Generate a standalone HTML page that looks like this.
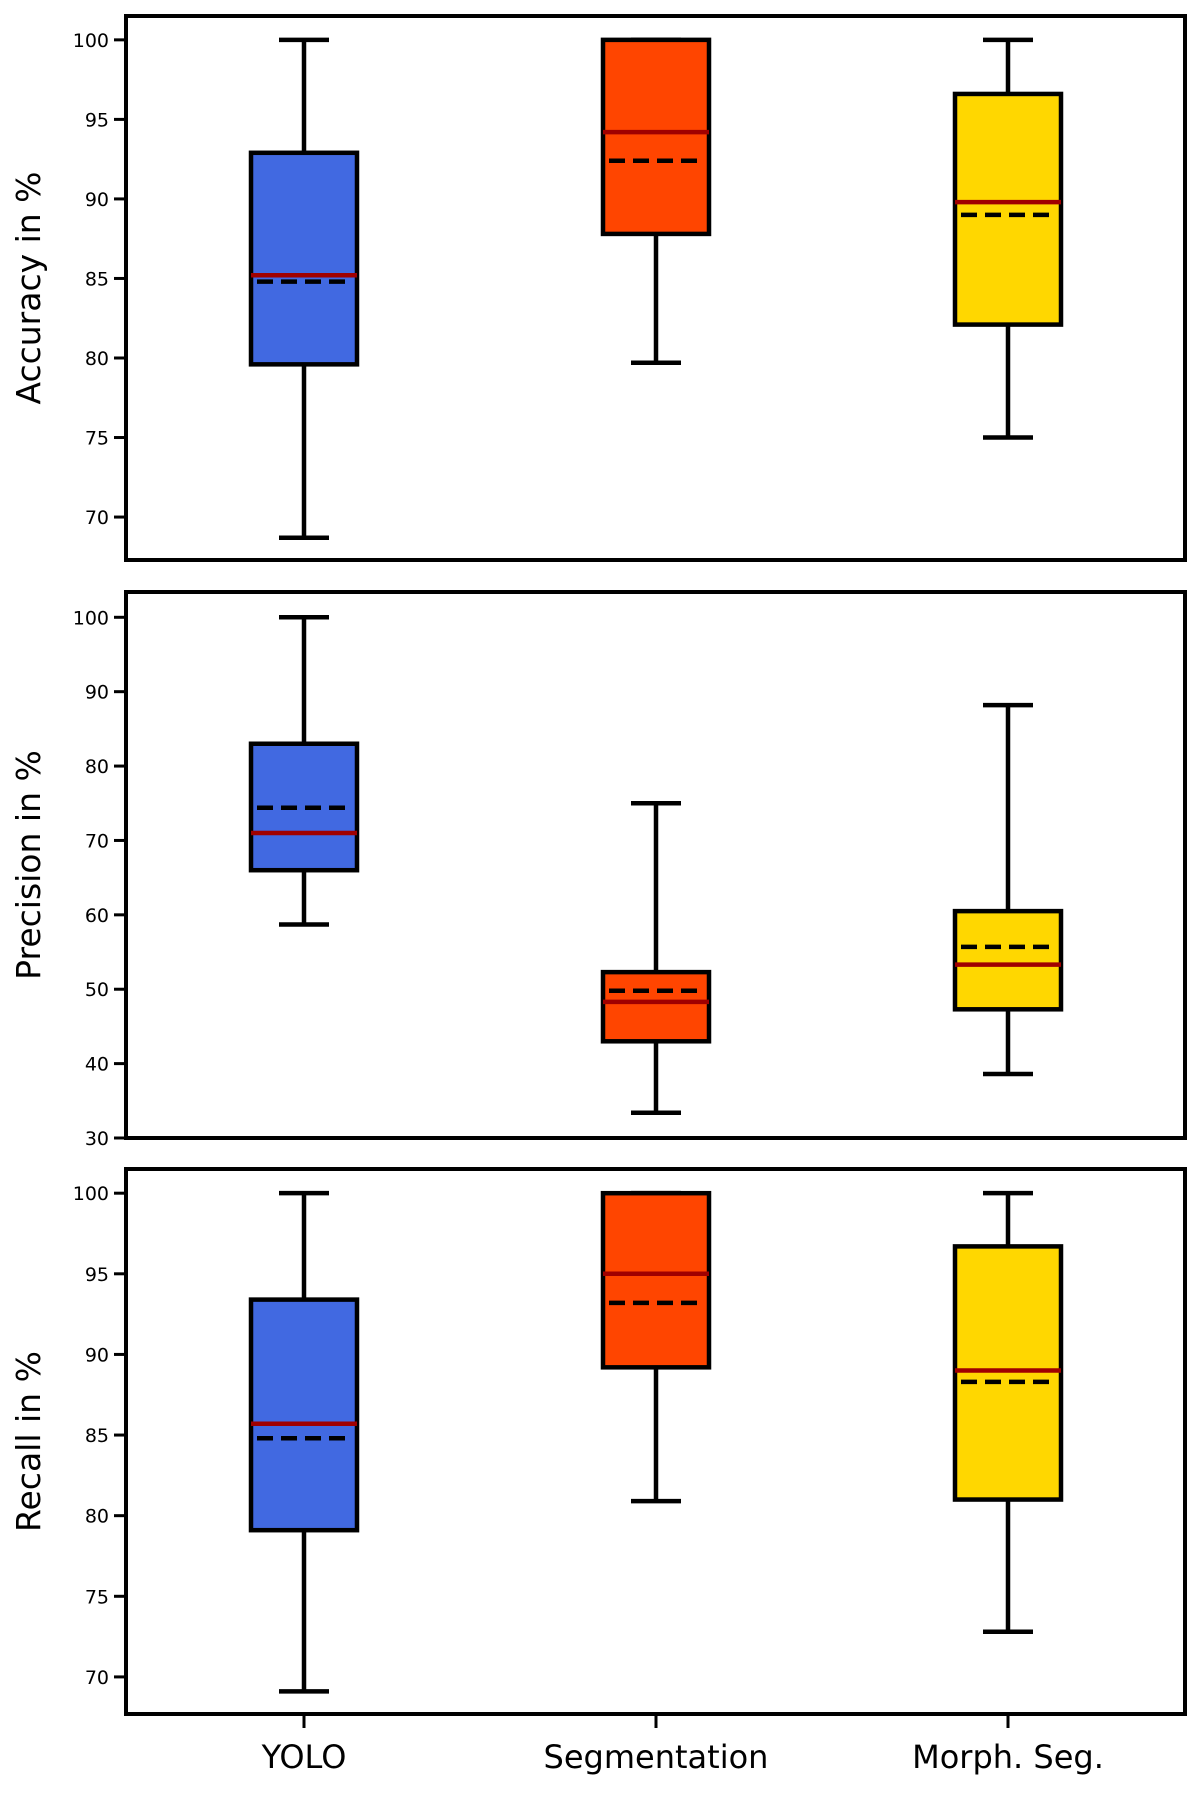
<!DOCTYPE html>
<html><head><meta charset="utf-8"><style>
body{margin:0;background:#fff}
svg{display:block;font-family:"DejaVu Sans","Liberation Sans",sans-serif}
</style></head><body>
<svg id="chart" width="1200" height="1795" viewBox="0 0 1200 1795"></svg>
<script>
const categories=["YOLO","Segmentation","Morph. Seg."];
const colors=["#4169E1","#FF4500","#FFD700"];
const panelTitles=["Accuracy in %","Precision in %","Recall in %"];
// [whiskerLow, q1, q3, whiskerHigh, median, mean]
const accuracyStats=[[68.7,79.6,92.9,100,85.2,84.8],[79.7,87.8,100,100,94.2,92.4],[75,82.1,96.6,100,89.8,89.0]];
const precisionStats=[[58.7,66,83,100,71,74.4],[33.4,43,52.3,75,48.3,49.8],[38.6,47.3,60.5,88.2,53.3,55.7]];
const recallStats=[[69.1,79.1,93.4,100,85.7,84.8],[80.9,89.2,100,100,95,93.2],[72.8,81,96.7,100,89,88.3]];
const accuracyTicks=[70,75,80,85,90,95,100];
const precisionTicks=[30,40,50,60,70,80,90,100];
const recallTicks=[70,75,80,85,90,95,100];

const NS="http://www.w3.org/2000/svg";
const svg=document.getElementById('chart');
function mk(tag,attrs,parent){const e=document.createElementNS(NS,tag);for(const k in attrs)e.setAttribute(k,attrs[k]);(parent||svg).appendChild(e);return e;}
const L=126,R=1185;
const xc=[304,656,1008];
const panels=[
 {top:16,bot:560,ymin:67.3,ymax:101.5,stats:accuracyStats,ticks:accuracyTicks,name:'accuracy'},
 {top:592,bot:1138,ymin:30,ymax:103.4,stats:precisionStats,ticks:precisionTicks,name:'precision'},
 {top:1169,bot:1714,ymin:67.7,ymax:101.5,stats:recallStats,ticks:recallTicks,name:'recall'}
];
panels.forEach((p,pi)=>{
 const g=mk('g',{});
 
 
 const y=v=>p.bot-(v-p.ymin)/(p.ymax-p.ymin)*(p.bot-p.top);
 p.stats.forEach((s,i)=>{
  const bg=mk('g',{},g);
  
  
  const c=xc[i],hw=53,cw=25,sw=4.5;
  mk('line',{x1:c,x2:c,y1:y(s[0]),y2:y(s[1]),stroke:'#000','stroke-width':sw},bg);
  mk('line',{x1:c,x2:c,y1:y(s[2]),y2:y(s[3]),stroke:'#000','stroke-width':sw},bg);
  mk('line',{x1:c-cw,x2:c+cw,y1:y(s[0]),y2:y(s[0]),stroke:'#000','stroke-width':sw},bg);
  mk('line',{x1:c-cw,x2:c+cw,y1:y(s[3]),y2:y(s[3]),stroke:'#000','stroke-width':sw},bg);
  mk('rect',{x:c-hw,y:y(s[2]),width:2*hw,height:y(s[1])-y(s[2]),fill:colors[i],stroke:'#000','stroke-width':sw},bg);
  mk('line',{x1:c-hw,x2:c+hw,y1:y(s[4]),y2:y(s[4]),stroke:'#a00000','stroke-width':sw},bg);
  mk('line',{x1:c-hw+6,x2:c+hw-4,y1:y(s[5]),y2:y(s[5]),stroke:'#000','stroke-width':sw,'stroke-dasharray':'16,8'},bg);
 });
 p.ticks.forEach(t=>{
  mk('line',{x1:L-12,x2:L,y1:y(t),y2:y(t),stroke:'#000','stroke-width':3},g);
  const tx=mk('text',{x:L-17,y:y(t)+7,'text-anchor':'end','font-size':19,fill:'#000'},g);
  tx.textContent=t;
  
  
 });
 const fr=mk('rect',{x:L,y:p.top,width:R-L,height:p.bot-p.top,fill:'none',stroke:'#000','stroke-width':4},g);
 
 
 const cy=(p.top+p.bot)/2;
 const tt=mk('text',{x:0,y:0,transform:`translate(40,${cy}) rotate(-90)`,'text-anchor':'middle','font-size':33,fill:'#000'},g);
 tt.textContent=panelTitles[pi];
 
 
 if(pi===2){
  categories.forEach((c,i)=>{
   mk('line',{x1:xc[i],x2:xc[i],y1:p.bot,y2:p.bot+14,stroke:'#000','stroke-width':3},g);
   const lt=mk('text',{x:xc[i],y:1768,'text-anchor':'middle','font-size':32,fill:'#000'},g);
   lt.textContent=c;
   
   
  });
 }
});
</script>
</body></html>
